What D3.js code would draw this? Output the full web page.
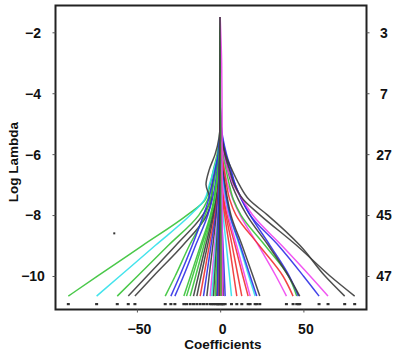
<!DOCTYPE html>
<html><head><meta charset="utf-8">
<script src="https://cdn.jsdelivr.net/npm/d3@7"></script>
<style>body{margin:0;background:#fff}svg{display:block}text{font-family:"Liberation Sans",Arial,sans-serif}</style>
</head><body><svg id="c" width="400" height="357"></svg>
<script>
// Log lambda grid where each coefficient path is sampled
const logLambda = [-10.66,-10,-9,-8,-7.5,-7,-6.5,-6,-5,-4,-3,-1.5];
// colour key for each path
const pathColors = ["g","c","g","k","k","g","b","b","g","g","g","k","k","r","b","k","m","c","k","g","k","r","b",
  "r","k","b","c","r","r","r","m","c","b","k","m","r","g","b","k","b","m","k","k","g","m","k"];
// coefficient values at each logLambda grid point
const coefPaths = [
  [-91.2,-73.5,-46.7,-19.9,-9,-6,-4,-1.8,0,0,0,0],
  [-74.2,-60.2,-39,-17.9,-9.5,-6.5,-3.8,-1.3,0,0,0,0],
  [-61.8,-49.6,-31.2,-12.8,-7.5,-4.8,-2.6,-0.8,0,0,0,0],
  [-55.2,-43.9,-26.7,-10.5,-6,-8.5,-6.5,-3,0,0,0,0],
  [-51.2,-40,-22.5,-8,-5.2,-4.5,-2.8,-1,0,0,0,0],
  [-33,-27,-18.5,-9,-6,-4,-2.5,-1,0,0,0,0],
  [-29.6,-24.3,-16.8,-10,-7,-5,-3,-1.2,0,0,0,0],
  [-27.2,-22,-14.8,-7.4,-4.8,-3,-1.8,-0.6,0,0,0,0],
  [-21.8,-17.8,-11.8,-5.9,-3.8,-2.4,-1.4,-0.5,0,0,0,0],
  [-20.2,-16.5,-11,-5.4,-3.5,-2.2,-1.2,-0.4,0,0,0,0],
  [-18,-14.7,-9.8,-4.8,-2.7,-1.3,-0.6,-0.2,0,0,0,0],
  [-16,-13.1,-8.7,-4.3,-2.4,-1.2,-0.6,-0.2,0,0,0,0],
  [-14,-11.5,-7.6,-3.8,-2.1,-1,-0.5,-0.2,0,0,0,0],
  [-12,-9.8,-6.5,-3.2,-1.8,-0.9,-0.4,-0.1,0,0,0,0],
  [-10,-8.2,-5.5,-2.7,-1.5,-0.7,-0.35,-0.1,0,0,0,0],
  [-8,-6.6,-4.4,-2.2,-1.2,-0.6,-0.3,-0.1,0,0,0,0],
  [-6,-4.9,-3.3,-1.6,-0.9,-0.4,-0.2,0,0,0,0,0],
  [-5,-4.1,-2.7,-1.3,-0.7,-0.35,-0.2,0,0,0,0,0],
  [-4,-3.3,-2.2,-1.1,-0.6,-0.3,-0.15,0,0,0,0,0],
  [-3,-2.5,-1.6,-0.8,-0.45,-0.2,-0.1,0,0,0,0,0],
  [-2,-1.6,-1.1,-0.55,-0.3,-0.15,0,0,0,0,0,0],
  [-1,-0.8,-0.55,-0.3,-0.15,0,0,0,0,0,0,0],
  [-1.5,-1.4,-1.2,-1,-0.8,-0.6,-0.4,-0.3,-0.2,-0.1,0,0],
  [1,0.8,0.55,0.3,0.15,0.1,0,0,0,0,0,0],
  [2,1.6,1.1,0.55,0.3,0.2,0.1,0,0,0,0,0],
  [3,2.5,1.7,0.8,0.5,0.3,0.2,0.1,0,0,0,0],
  [6.8,5.6,3.7,1.8,1,0.5,0.25,0.1,0,0,0,0],
  [10,8.2,5.5,2.7,1.5,0.7,0.35,0.1,0,0,0,0],
  [13,10.7,7.2,3.5,2,0.9,0.45,0.15,0,0,0,0],
  [16.8,13.6,9,4.2,2.2,1.1,0.5,0.2,0,0,0,0],
  [18,14.8,9.9,4.9,3,1.8,1,0.4,0,0,0,0],
  [21,17.2,11.6,5.7,3.6,2.2,1.3,0.5,0,0,0,0],
  [22,18,12.1,5.9,4,2.6,1.6,0.7,0,0,0,0],
  [23.8,19.7,13.2,6.5,4.5,3,1.9,0.9,0,0,0,0],
  [39.8,33.5,23,12,7.8,4.5,2.5,1,0,0,0,0],
  [43.8,37.7,23.5,9.5,5.8,3.8,2.4,1,0,0,0,0],
  [46,41,27,12.5,8,5.5,3.5,1.8,0.2,0,0,0],
  [47,41.5,30,18,13,9,5.8,3.2,0.5,0,0,0],
  [47.8,41,29,16,11,7,4.5,2.4,0.3,0,0,0],
  [59.4,50,35,18,13,9,6.5,3.8,0.5,0,0,0],
  [64.8,54,37,19.5,13.5,8,4.5,2.2,0.3,0,0,0],
  [74.8,63,48,28.5,17.5,11.5,7,3.2,0.3,0,0,0],
  [80.8,66,46,24,14,8.5,5.5,2.8,0.3,0,0,0],
  [0.5,0.5,0.5,0.4,0.4,0.4,0.3,0.3,0.3,0.2,0,0],
  [1.5,1.5,1.4,1.3,1.3,1.2,1.2,1.2,1.2,1.1,0.9,0],
  [-0.3,-0.3,-0.3,-0.3,-0.3,-0.3,-0.2,-0.2,-0.2,-0.2,-0.1,-0.05]
];
const xTicks = [-50, 0, 50];
const yTicks = [-2, -4, -6, -8, -10];
const dfLabels = ["3", "7", "27", "45", "47"];
const strayPoint = [-63.6, -8.6];

const palette = {k:"#3c3c3c", r:"#f03030", g:"#36c236", b:"#2f2fe6", c:"#30e0ea", m:"#f044f0"};
const svg = d3.select("#c");
const L = 55.5, R = 366.5, T = 5.5, B = 309.5;
const x = d3.scaleLinear().domain([-98.9, 87.9]).range([L, R]);
const y = d3.scaleLinear().domain([-11.1, -1.12]).range([B, T]);

const line = d3.line().x(d => x(d[1])).y(d => y(d[0])).curve(d3.curveMonotoneY);
const g = svg.append("g");
coefPaths.forEach((vals, i) => {
  const pts = logLambda.map((l, j) => [l, vals[j]]).reverse();
  g.append("path").attr("d", line(pts)).attr("fill", "none")
    .attr("stroke", palette[pathColors[i]]).attr("stroke-width", 1.5).attr("stroke-opacity", 0.9);
});
// end markers
coefPaths.forEach(vals => {
  svg.append("rect").attr("x", x(vals[0]) - 1.5).attr("y", y(-10.92) - 1)
    .attr("width", 3).attr("height", 2.2).attr("fill", "#333");
});
svg.append("rect").attr("x", x(strayPoint[0]) - 1).attr("y", y(strayPoint[1]) - 1)
  .attr("width", 2).attr("height", 2).attr("fill", "#333");

// frame
svg.append("rect").attr("x", L).attr("y", T).attr("width", R - L).attr("height", B - T)
  .attr("fill", "none").attr("stroke", "#222").attr("stroke-width", 2);

// bottom axis
const xa = svg.append("g").attr("transform", `translate(0,${B})`)
  .call(d3.axisBottom(x).tickValues(xTicks).tickSize(3).tickFormat(d3.format("d")));
xa.select(".domain").remove();
xa.selectAll("text").attr("font-size", 14).attr("font-weight", "bold").attr("fill", "#111")
  .attr("dx", 2).attr("dy", "1.3em").style("font-family", "Liberation Sans, Arial, sans-serif");
xa.selectAll("line").attr("stroke", "#555");

// left axis
const ya = svg.append("g").attr("transform", `translate(${L},0)`)
  .call(d3.axisLeft(y).tickValues(yTicks).tickSize(3).tickFormat(d3.format("d")));
ya.select(".domain").remove();
ya.selectAll("text").attr("font-size", 14).attr("font-weight", "bold").attr("fill", "#111")
  .attr("text-anchor", "middle").attr("x", 33 - L).attr("dy", "0.35em")
  .style("font-family", "Liberation Sans, Arial, sans-serif");
ya.selectAll("line").attr("stroke", "#555");

// right axis (df)
const ra = svg.append("g").attr("transform", `translate(${R},0)`)
  .call(d3.axisRight(y).tickValues(yTicks).tickSize(3).tickFormat((d, i) => dfLabels[i]));
ra.select(".domain").remove();
ra.selectAll("text").attr("font-size", 14).attr("font-weight", "bold").attr("fill", "#111")
  .attr("text-anchor", "middle").attr("x", 384 - R).attr("dy", "0.35em")
  .style("font-family", "Liberation Sans, Arial, sans-serif");
ra.selectAll("line").attr("stroke", "#555");

svg.append("text").attr("x", 223).attr("y", 349).attr("text-anchor", "middle")
  .attr("font-size", 13.5).attr("font-weight", "bold").attr("fill", "#111").text("Coefficients");
svg.append("text").attr("transform", "translate(18,162) rotate(-90)").attr("text-anchor", "middle")
  .attr("font-size", 13.5).attr("font-weight", "bold").attr("fill", "#111").text("Log Lambda");
</script></body></html>
